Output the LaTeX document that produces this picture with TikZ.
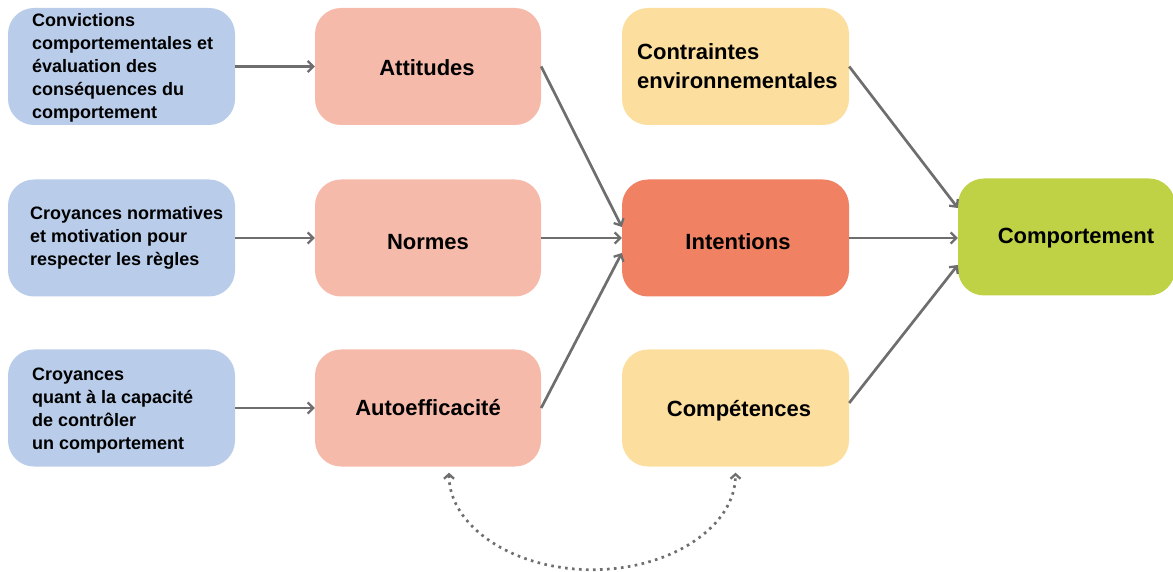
\documentclass[tikz,border=0pt]{standalone}
\usepackage{fontspec}
\setmainfont{Liberation Sans}
\usetikzlibrary{arrows.meta,calc}
\definecolor{cblue}{HTML}{B9CDEA}
\definecolor{cpink}{HTML}{F6BAAB}
\definecolor{corange}{HTML}{F08163}
\definecolor{cyellow}{HTML}{FCDE9E}
\definecolor{cgreen}{HTML}{BFD245}
\definecolor{cgray}{HTML}{6E6E6E}
\begin{document}
\begin{tikzpicture}[x=1pt,y=1pt,
  box/.style={rounded corners=26pt, minimum width=#1, minimum height=117pt, inner sep=0pt, draw=none},
  box/.default=227pt,
  big/.style={font=\fontsize{22}{29}\selectfont\bfseries, inner sep=0pt},
  small/.style={font=\fontsize{18}{23}\selectfont\bfseries, inner sep=0pt, align=left},
  arr/.style={draw=cgray, line width=2.7pt, -{Straight Barb[length=5.5pt,width=11pt,line width=2.3pt]}},
  dots/.style={draw=cgray, line width=2.7pt, dash pattern=on 2.6pt off 4.4pt,
     {Straight Barb[length=4.5pt,width=10pt,line width=2.3pt]}-{Straight Barb[length=4.5pt,width=10pt,line width=2.3pt]}}
]
\useasboundingbox (0,0) rectangle (1173,571);
% boxes
\node[box, fill=cblue] (b1) at (121.5,504.5) {};
\node[box, fill=cblue] (b2) at (121.5,333) {};
\node[box, fill=cblue] (b3) at (121.5,163) {};
\node[box=226pt, fill=cpink] (p1) at (428,504.5) {};
\node[box=226pt, fill=cpink] (p2) at (428,333) {};
\node[box=226pt, fill=cpink] (p3) at (428,163) {};
\node[box, fill=cyellow] (c) at (735.5,504.5) {};
\node[box, fill=corange] (i) at (735.5,333) {};
\node[box, fill=cyellow] (k) at (735.5,163) {};
\node[box=217pt, fill=cgreen] (g) at (1066.5,334) {};
% texts
\node[small, anchor=west] (t1) at (32,503.5) {Convictions\\comportementales et\\évaluation des\\conséquences du\\comportement};
\node[small, anchor=west] (t2) at (30,333.5) {Croyances normatives\\et motivation pour\\respecter les règles};
\node[small, anchor=west] (t3) at (32,160) {Croyances\\quant à la capacité\\de contrôler\\un comportement};
\node[big, anchor=base] (tp1) at (427,495.3) {Attitudes};
\node[big, anchor=base] (tp2) at (428,321) {Normes};
\node[big, anchor=base] (tp3) at (428,156) {Autoefficacité};
\node[big, anchor=west, align=left] (tc) at (637,504.5) {Contraintes\\environnementales};
\node[big, anchor=base] (ti) at (738,321) {Intentions};
\node[big, anchor=base] (tk) at (739,155) {Compétences};
\node[big, anchor=base] (tg) at (1076,327.7) {Comportement};
% connectors
\draw[arr] (b1.east) -- (p1.west);
\draw[arr] (b2.east) -- (p2.west);
\draw[arr] (b3.east) -- (p3.west);
\draw[arr] (p1.east) -- ($(i.west)+(0,11)$);
\draw[arr] (p2.east) -- (i.west);
\draw[arr] (p3.east) -- ($(i.west)+(0,-15)$);
\draw[arr] (c.east) -- ($(g.west)+(0,29)$);
\draw[arr] (i.east) -- (i.east -| g.west);
\draw[arr] ($(k.east)+(0,5)$) -- ($(g.west)+(0,-28)$);
\coordinate (d1) at ($(p3.south)+(21,-6)$);
\coordinate (d2) at ($(k.south)+(0,-6)$);
\draw[dots] (d1) arc[start angle=180, end angle=360, x radius=143.25, y radius=97];
\end{tikzpicture}
\end{document}
